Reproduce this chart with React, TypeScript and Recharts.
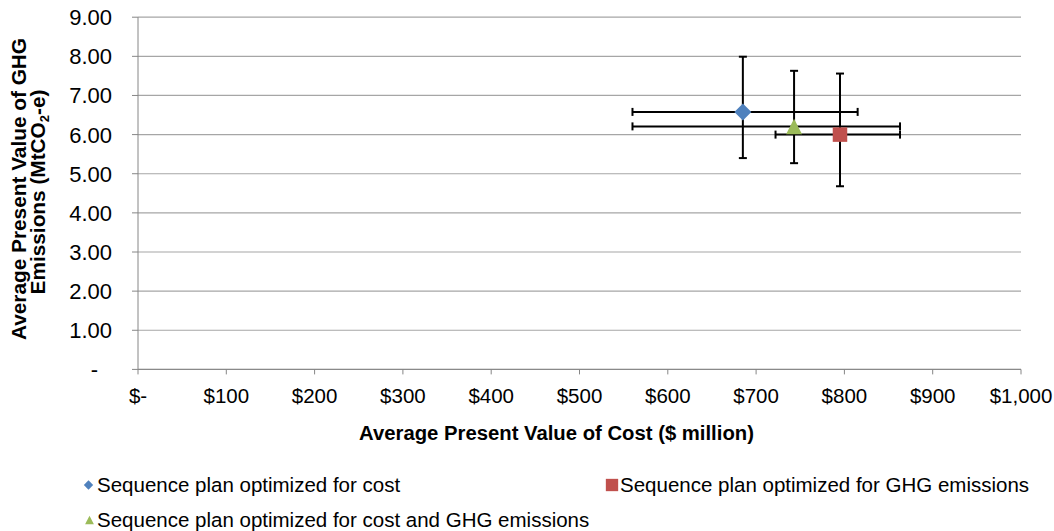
import React from "react";
import {
  CartesianGrid,
  ErrorBar,
  Scatter,
  ScatterChart,
  XAxis,
  YAxis,
} from "recharts";

const FONT = '"Liberation Sans", Arial, sans-serif';

// series, in legend order
const seriesNames = [
  "Sequence plan optimized for cost",
  "Sequence plan optimized for GHG emissions",
  "Sequence plan optimized for cost and GHG emissions",
];
const seriesColors = ["#4F81BD", "#C0504D", "#9BBB59"];

// average present value of cost ($ million) and its range
const costMean = [685, 795, 743];
const costLow = [560, 722, 560];
const costHigh = [815, 863, 863];

// average present value of GHG emissions (MtCO2-e) and its range
const ghgMean = [6.58, 6.0, 6.21];
const ghgLow = [5.4, 4.68, 5.27];
const ghgHigh = [7.99, 7.56, 7.63];

const xTicks = [0, 100, 200, 300, 400, 500, 600, 700, 800, 900, 1000];
const yTicks = [0, 1, 2, 3, 4, 5, 6, 7, 8, 9];

const seriesData = seriesNames.map((_, i) => [
  {
    x: costMean[i],
    y: ghgMean[i],
    errX: [costMean[i] - costLow[i], costHigh[i] - costMean[i]],
    errY: [ghgMean[i] - ghgLow[i], ghgHigh[i] - ghgMean[i]],
  },
]);

const W = 1054;
const H = 531;
const AXIS = "#868686";
const GRID = "#a6a6a6";

const formatX = (v: number) => (v === 0 ? "$-" : "$" + v.toLocaleString("en-US"));
const formatY = (v: number) => (v === 0 ? "-" : v.toFixed(2));

const XTick = (props: any) => {
  const { x, y, payload } = props;
  return (
    <text
      x={x}
      y={y}
      dy="0.71em"
      textAnchor="middle"
      fontFamily={FONT}
      fontSize={20.5}
      fill="#000"
    >
      {formatX(payload.value)}
    </text>
  );
};

const YTick = (props: any) => {
  const { x, y, payload } = props;
  const v = payload.value;
  return (
    <text
      x={v === 0 ? x - 14 : x}
      y={y}
      dy="0.36em"
      textAnchor="end"
      fontFamily={FONT}
      fontSize={22}
      fill="#000"
    >
      {formatY(v)}
    </text>
  );
};

const markerShape = (kind: number, cx: number, cy: number, color: string, scale = 1) => {
  if (kind === 0) {
    const r = 8.5 * scale;
    return (
      <polygon
        points={`${cx},${cy - r} ${cx + r},${cy} ${cx},${cy + r} ${cx - r},${cy}`}
        fill={color}
      />
    );
  }
  if (kind === 1) {
    const s = 14.5 * scale;
    return <rect x={cx - s / 2} y={cy - s / 2} width={s} height={s} fill={color} />;
  }
  const w = 16 * scale;
  const h = 15.5 * scale;
  return (
    <polygon
      points={`${cx},${cy - h / 2} ${cx + w / 2},${cy + h / 2} ${cx - w / 2},${cy + h / 2}`}
      fill={color}
    />
  );
};

const Legend = () => {
  const items = [
    { kind: 0, mx: 88.5, tx: 97, y: 485 },
    { kind: 1, mx: 612, tx: 620, y: 485 },
    { kind: 2, mx: 89.5, tx: 97, y: 520 },
  ];
  return (
    <>
      {items.map((it) => (
        <g key={it.kind}>
          {markerShape(it.kind, it.mx, it.y, seriesColors[it.kind], it.kind === 1 ? 0.85 : 0.55)}
          <text
            x={it.tx}
            y={it.y}
            dy="0.36em"
            fontFamily={FONT}
            fontSize={20.5}
            fill="#000"
          >
            {seriesNames[it.kind]}
          </text>
        </g>
      ))}
    </>
  );
};

export default function App() {
  return (
    <div
      style={{
        position: "absolute",
        left: 0,
        top: 0,
        width: W,
        height: H,
        background: "#fff",
      }}
    >
      <ScatterChart
        width={W}
        height={H}
        margin={{ top: 17.2, right: 33, bottom: 121.6, left: 0 }}
      >
        <CartesianGrid vertical={false} stroke={GRID} strokeWidth={1.2} />
        <XAxis
          type="number"
          dataKey="x"
          domain={[0, 1000]}
          ticks={xTicks}
          interval={0}
          height={40}
          tick={<XTick />}
          tickSize={5}
          tickMargin={14}
          stroke={AXIS}
          tickLine={{ stroke: AXIS }}
          axisLine={{ stroke: AXIS }}
        />
        <YAxis
          type="number"
          dataKey="y"
          domain={[0, 9]}
          ticks={yTicks}
          interval={0}
          width={138}
          tick={<YTick />}
          tickSize={6}
          tickMargin={20}
          stroke={AXIS}
          tickLine={{ stroke: AXIS }}
          axisLine={{ stroke: AXIS }}
        />
        {seriesData.map((data, i) => (
          <Scatter
            key={seriesNames[i]}
            name={seriesNames[i]}
            data={data}
            isAnimationActive={false}
            shape={(p: any) => markerShape(i, p.cx, p.cy, seriesColors[i])}
          >
            <ErrorBar
              dataKey="errX"
              direction="x"
              width={4}
              stroke="#000"
              strokeWidth={2}
              isAnimationActive={false}
            />
            <ErrorBar
              dataKey="errY"
              direction="y"
              width={4}
              stroke="#000"
              strokeWidth={2}
              isAnimationActive={false}
            />
          </Scatter>
        ))}
      </ScatterChart>
      <svg
        width={W}
        height={H}
        style={{ position: "absolute", left: 0, top: 0, pointerEvents: "none" }}
      >
        <text
          transform="translate(26,189) rotate(-90)"
          textAnchor="middle"
          fontFamily={FONT}
          fontWeight="bold"
          fontSize={20.8}
          fill="#000"
        >
          Average Present Value of GHG
        </text>
        <text
          transform="translate(45,192) rotate(-90)"
          textAnchor="middle"
          fontFamily={FONT}
          fontWeight="bold"
          fontSize={20.8}
          fill="#000"
        >
          Emissions (MtCO
          <tspan fontSize={13} dy={4}>2</tspan>
          <tspan dy={-4}>-e)</tspan>
        </text>
        <text
          x={556.5}
          y={440}
          textAnchor="middle"
          fontFamily={FONT}
          fontWeight="bold"
          fontSize={20.3}
          fill="#000"
        >
          Average Present Value of Cost ($ million)
        </text>
        <Legend />
      </svg>
    </div>
  );
}
